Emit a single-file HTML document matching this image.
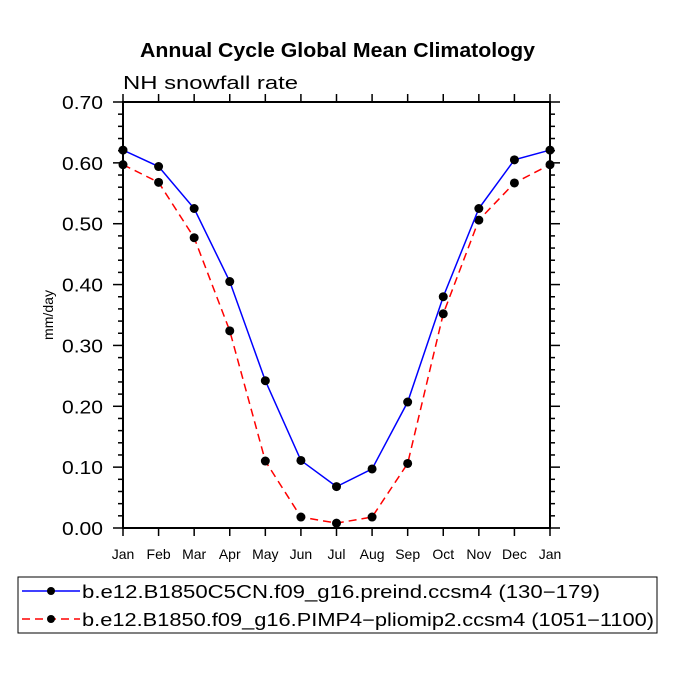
<!DOCTYPE html>
<html><head><meta charset="utf-8"><style>
body{margin:0;background:#fff;width:675px;height:675px;overflow:hidden}
text{font-family:"Liberation Sans",sans-serif}
</style></head><body>
<svg id="chart" width="675" height="675">
<text x="140" y="57" textLength="395" lengthAdjust="spacingAndGlyphs" font-size="20" font-weight="bold">Annual Cycle Global Mean Climatology</text>
<text x="123" y="89" textLength="175" lengthAdjust="spacingAndGlyphs" font-size="18">NH snowfall rate</text>
<text transform="translate(53,315) rotate(-90)" text-anchor="middle" textLength="50" lengthAdjust="spacingAndGlyphs" font-size="14">mm/day</text>
<g id="axes"></g><g id="series"></g>
<rect x="18" y="577" width="639" height="56" fill="none" stroke="#000"/>
<line x1="22" y1="591" x2="80" y2="591" stroke="#0000ff" stroke-width="1.5"/>
<circle cx="51" cy="591" r="4"/>
<text x="82" y="598" textLength="518" lengthAdjust="spacingAndGlyphs" font-size="18">b.e12.B1850C5CN.f09_g16.preind.ccsm4 (130−179)</text>
<line x1="22" y1="619" x2="80" y2="619" stroke="#ff0000" stroke-width="1.5" stroke-dasharray="8,5"/>
<circle cx="51" cy="619" r="4"/>
<text x="82" y="626" textLength="572" lengthAdjust="spacingAndGlyphs" font-size="18">b.e12.B1850.f09_g16.PIMP4−pliomip2.ccsm4 (1051−1100)</text>
</svg>
<script>
const months=["Jan","Feb","Mar","Apr","May","Jun","Jul","Aug","Sep","Oct","Nov","Dec","Jan"];
const preind=[0.621,0.594,0.525,0.405,0.242,0.111,0.068,0.097,0.207,0.380,0.525,0.605,0.621];
const pliomip=[0.597,0.568,0.477,0.324,0.110,0.018,0.008,0.018,0.106,0.352,0.506,0.567,0.597];
const yTicks=["0.00","0.10","0.20","0.30","0.40","0.50","0.60","0.70"];
const L=123,R=550,T=102,B=528;
const xs=i=>L+(R-L)*i/(months.length-1);
const ys=v=>B-(B-T)*v/0.7;
const NS="http://www.w3.org/2000/svg";
function mk(tag,attrs,parent){const e=document.createElementNS(NS,tag);for(const k in attrs)e.setAttribute(k,attrs[k]);parent.appendChild(e);return e;}
const ax=document.getElementById('axes');
let f=mk('rect',{x:L,y:T,width:R-L,height:B-T,fill:'none',stroke:'#000','stroke-width':2},ax);


for(let k=0;k<=35;k++){const v=k*0.02,y=ys(v),maj=k%5===0,len=maj?10:5;
 let t1=mk('line',{x1:L-len,x2:L,y1:y,y2:y,stroke:'#000','stroke-width':1.5},ax);
 
 
 let t2=mk('line',{x1:R,x2:R+len,y1:y,y2:y,stroke:'#000','stroke-width':1.5},ax);
 
 
}
yTicks.forEach(s=>{const t=mk('text',{x:L-20,y:ys(parseFloat(s))+7,'text-anchor':'end','font-size':18,textLength:41,lengthAdjust:'spacingAndGlyphs'},ax);t.textContent=s;
 
 });
months.forEach((m,i)=>{const x=xs(i);
 let a=mk('line',{x1:x,x2:x,y1:B,y2:B+8,stroke:'#000','stroke-width':1.5},ax);
 
 
 let b=mk('line',{x1:x,x2:x,y1:T-8,y2:T,stroke:'#000','stroke-width':1.5},ax);
 
 
 const t=mk('text',{x:x,y:B+31,'text-anchor':'middle','font-size':14},ax);t.textContent=m;
 
 });
const sg=document.getElementById('series');
function series(vals,color,dash,name){
 const p=mk('polyline',{points:vals.map((v,i)=>xs(i)+','+ys(v)).join(' '),fill:'none',stroke:color,'stroke-width':1.5,'stroke-dasharray':dash},sg);
 
 
 vals.forEach((v,i)=>{const c=mk('circle',{cx:xs(i),cy:ys(v),r:4.5,fill:'#000'},sg);
  
  });
}
series(pliomip,'#ff0000','8,5','pliomip');
series(preind,'#0000ff','none','preind');
</script>
</body></html>
